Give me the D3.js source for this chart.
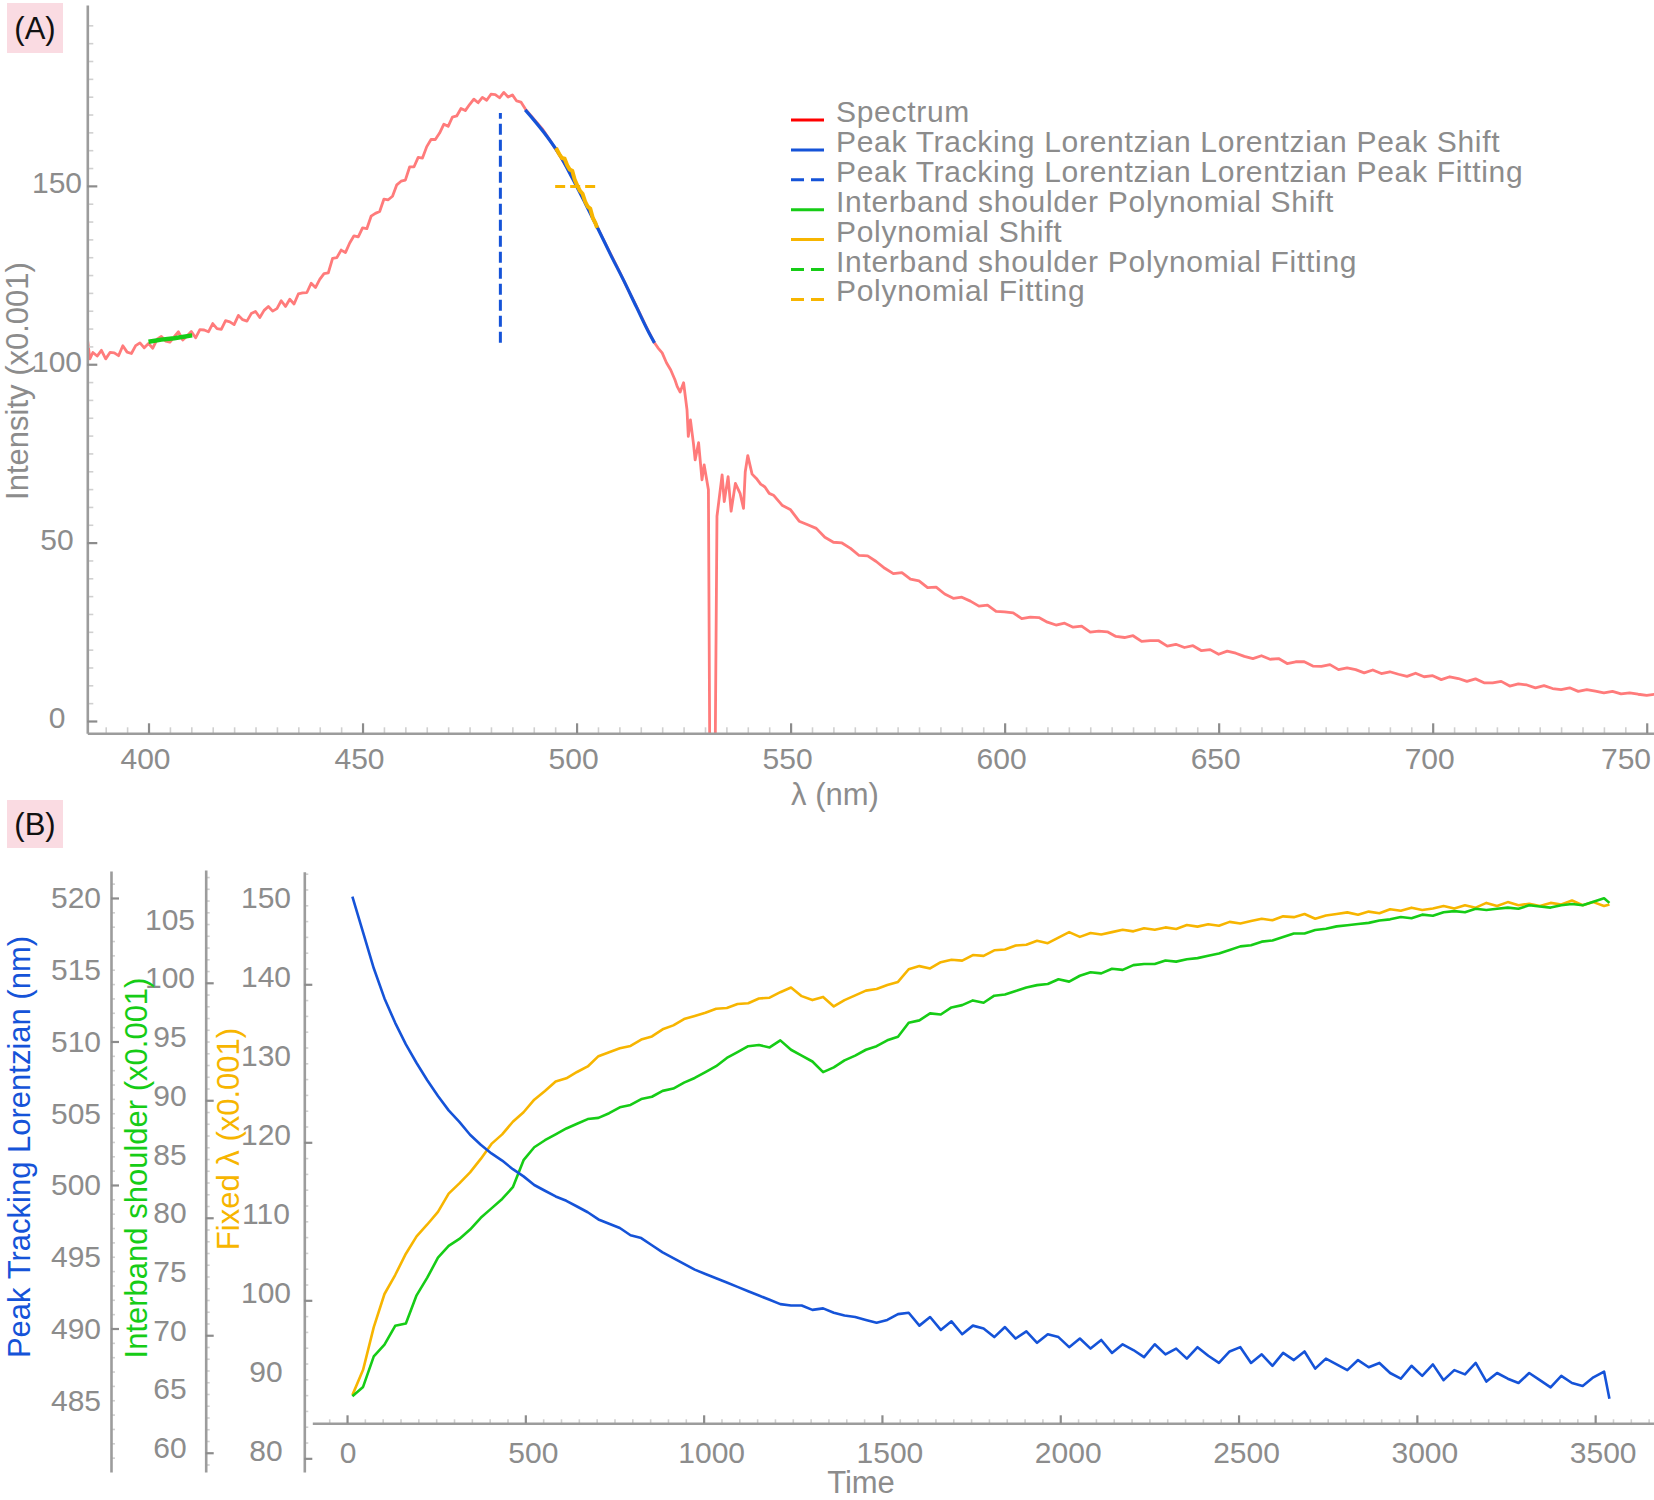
<!DOCTYPE html>
<html>
<head>
<meta charset="utf-8">
<script src="https://cdn.jsdelivr.net/npm/d3@7.9.0/dist/d3.min.js"></script>
<style>
  body { margin: 0; background: #fff; }
  svg { display: block; font-family: 'Liberation Sans', Arial, sans-serif; }
</style>
</head>
<body>
<svg id="chart" width="1654" height="1500"></svg>
<script>
// ---- panel A data: spectrum and fits, [wavelength nm, intensity x0.001]
const spectrum = [
  [385.8,106.4],[386.3,101.5],[387,103.3],[388,102.3],[389,103.9],[390,101.5],[391,103.3],[392,103.2],[393,102.4],[394,105.2],
  [395,103.4],[396,103.0],[397,105.2],[398,106.0],[399,104.6],[400,105.8],[401,104.5],[402,107.0],[403,107.8],[404,106.5],
  [405,106.2],[406,107.7],[407,109.1],[408,106.8],[409,107.9],[410,109.2],[411,107.4],[412,109.7],[413,109.6],[414,109.1],
  [415,111.4],[416,110.0],[417,109.8],[418,112.2],[419,111.9],[420,111.1],[421,113.7],[422,112.5],[423,112.1],[424,114.2],
  [425,114.8],[426,113.1],[427,115.1],[428,116.2],[429,114.9],[430,115.6],[431,117.8],[432,116.2],[433,118.2],[434,116.9],
  [435,119.7],[436,120.0],[437,120.1],[438,122.7],[439,121.5],[440,123.8],[441,125.4],[442,125.6],[443,129.7],[444,129.9],
  [445,132.0],[446,131.3],[447,134.0],[448,136.0],[449,135.7],[450,138.2],[451,138.0],[452,141.5],[453,142.3],[454,142.8],
  [455,146.3],[456,146.1],[457,147.1],[458,150.3],[459,151.3],[460,151.6],[461,155.3],[462,155.3],[463,158.0],[464,157.8],
  [465,161.0],[466,163.0],[467,163.0],[468,164.8],[469,167.3],[470,166.7],[471,169.3],[472,169.6],[473,171.7],[474,171.1],
  [475,172.8],[476,174.3],[477,173.3],[478,174.8],[479,174.0],[480,175.7],[481,175.6],[482,174.7],[483,176.2],[484,174.9],
  [485,175.5],[486,173.8],[487,173.5],[488,171.6],[490,168.8],[492,166.0],[494,162.4],[496,158.6],[498,154.6],[500,150.2],
  [502,145.4],[504,140.6],[506,135.6],[508,130.8],[510,126.0],[512,121.0],[514,116.2],[516,111.2],[518,106.4],[519,104.6],
  [520,103.2],[521,100.4],[522,98.4],[523,95.6],[523.5,93.8],[524.2,92.2],[525,94.8],[525.8,87.2],[526.1,79.8],[526.6,84.4],
  [527.3,77.8],[527.7,73.2],[528.5,78.0],[529.3,67.6],[529.8,71.8],[530.8,64.8],[531.1,-6],[532.4,-6],[532.8,57.4],[534,69.0],
  [534.5,61.5],[535.4,68.5],[536.1,58.8],[537.1,66.6],[538.2,63.8],[539,59.6],[539.4,69.8],[540,74.4],[541,69.2],[542,68.0],
  [543,66.4],[544,65.6],[545,63.8],[546,63.3],[548,60.5],[550,59.2],[552,56.0],[554,55.0],[556,54.0],[558,51.5],
  [560,50.1],[562,49.9],[564,48.4],[566,46.4],[568,46.3],[570,44.7],[572,42.8],[574,41.3],[576,41.6],[578,39.8],
  [580,39.3],[582,37.4],[584,37.5],[586,35.6],[588,34.4],[590,34.7],[592,33.6],[594,32.2],[596,32.5],[598,30.7],
  [600,30.6],[602,30.3],[604,28.7],[606,29.1],[608,29.0],[610,27.7],[612,26.9],[614,27.4],[616,26.3],[618,26.6],
  [620,24.9],[622,25.2],[624,25.0],[626,23.7],[628,23.4],[630,23.9],[632,22.3],[634,22.5],[636,22.5],[638,21.0],
  [640,21.5],[642,20.6],[644,21.1],[646,19.7],[648,20.0],[650,18.7],[652,19.6],[654,19.0],[656,18.1],[658,17.5],
  [660,18.3],[662,17.3],[664,17.5],[666,16.1],[668,16.6],[670,16.6],[672,15.4],[674,15.3],[676,15.8],[678,14.4],
  [680,14.9],[682,14.4],[684,13.5],[686,14.3],[688,13.3],[690,13.8],[692,13.1],[694,12.5],[696,13.4],[698,12.4],
  [700,12.7],[702,11.6],[704,12.4],[706,11.9],[708,11.1],[710,11.8],[712,10.7],[714,10.7],[716,11.1],[718,9.8],
  [720,10.4],[722,10.1],[724,9.3],[726,9.9],[728,9.1],[730,8.8],[732,9.3],[734,8.3],[736,8.8],[738,8.4],
  [740,7.9],[742,8.3],[744,7.6],[746,7.9],[748,7.5],[750,7.2],[752,7.5]
];
const lorentzShift = [[488,171.3],[490,168.5],[493,164.0],[496,158.8],[499,152.2],[502,145.2],[505,138.0],[508,130.6],[511,123.5],[514,116.0],[517,108.6],[518.2,106.0]];
const lorentzFitNm = 482.2;
const lorentzFitSpan = [106.0, 170.4];
const polyShift = [[495.2,160.6],[496,158.8],[496.6,157.8],[497.2,157.6],[497.8,155.8],[498.4,154.6],[499,154.2],[499.6,151.6],[500.2,150.0],[500.8,148.6],[501.4,147.8],[502,145.6],[502.6,144.2],[503.2,143.6],[503.8,141.0],[504.4,139.6],[504.8,138.2]];
const polyFitSpan = [495.0, 505.1];
const polyFitLevel = 149.8;
const shoulderShift = [[400.0,106.3],[403,106.9],[406,107.3],[410.2,108.1]];

const legendLabels = ['Spectrum','Peak Tracking Lorentzian Lorentzian Peak Shift','Peak Tracking Lorentzian Lorentzian Peak Fitting','Interband shoulder Polynomial Shift','Polynomial Shift','Interband shoulder Polynomial Fitting','Polynomial Fitting'];
const legendColors = ['#ff0000','#1553d8','#1553d8','#16cc16','#f7b500','#16cc16','#f7b500'];
const legendDashed = [false,false,true,false,false,true,true];

// ---- panel B data: time series
const times = [
  15,45,75,105,135,165,195,225,255,285,
  315,345,375,405,435,465,495,525,555,585,
  615,645,675,705,735,765,795,825,855,885,
  915,945,975,1005,1035,1065,1095,1125,1155,1185,
  1215,1245,1275,1305,1335,1365,1395,1425,1455,1485,
  1515,1545,1575,1605,1635,1665,1695,1725,1755,1785,
  1815,1845,1875,1905,1935,1965,1995,2025,2055,2085,
  2115,2145,2175,2205,2235,2265,2295,2325,2355,2385,
  2415,2445,2475,2505,2535,2565,2595,2625,2655,2685,
  2715,2745,2775,2805,2835,2865,2895,2925,2955,2985,
  3015,3045,3075,3105,3135,3165,3195,3225,3255,3285,
  3315,3345,3375,3405,3435,3465,3495,3525,3540
];
const peakLorentz = [
  520.1,517.6,515.1,513.0,511.3,509.8,508.5,507.3,506.2,505.2,
  504.4,503.5,502.8,502.2,501.7,501.1,500.6,500.0,499.6,499.2,
  498.9,498.5,498.1,497.6,497.3,497.0,496.5,496.3,495.8,495.3,
  494.9,494.5,494.1,493.8,493.5,493.2,492.9,492.6,492.3,492.0,
  491.7,491.6,491.6,491.3,491.4,491.1,490.9,490.8,490.6,490.4,
  490.6,491.0,491.1,490.2,490.8,489.9,490.5,489.6,490.2,490.0,
  489.4,490.1,489.3,489.8,489.0,489.6,489.4,488.7,489.3,488.6,
  489.2,488.3,488.9,488.5,488.0,488.9,488.2,488.6,487.9,488.7,
  488.1,487.6,488.4,488.7,487.6,488.2,487.4,488.3,487.8,488.4,
  487.2,487.9,487.5,487.1,487.8,487.3,487.6,486.9,486.5,487.4,
  486.7,487.5,486.4,487.1,486.8,487.6,486.3,486.9,486.5,486.2,
  486.9,486.4,485.9,486.7,486.2,486.0,486.6,487.0,485.1
];
const shoulder = [
  64.8,65.6,68.2,69.2,70.8,71.0,73.4,74.9,76.6,77.6,
  78.2,79.0,80.0,80.8,81.6,82.6,84.9,86.0,86.6,87.1,
  87.6,88.0,88.4,88.5,88.9,89.4,89.6,90.1,90.3,90.8,
  91.0,91.5,91.9,92.4,92.9,93.6,94.1,94.6,94.7,94.5,
  95.1,94.3,93.8,93.3,92.4,92.8,93.4,93.8,94.3,94.6,
  95.1,95.4,96.6,96.8,97.4,97.3,97.9,98.1,98.5,98.3,
  98.9,99.0,99.3,99.6,99.8,99.9,100.3,100.1,100.6,100.9,
  100.8,101.2,101.1,101.5,101.6,101.6,101.9,101.8,102.0,102.1,
  102.3,102.5,102.8,103.1,103.2,103.5,103.6,103.9,104.2,104.2,
  104.5,104.6,104.8,104.9,105.0,105.1,105.3,105.4,105.6,105.5,
  105.8,105.7,106.0,106.1,106.0,106.3,106.2,106.3,106.4,106.3,
  106.6,106.5,106.4,106.6,106.7,106.6,106.9,107.2,106.8
];
const fixedLambda = [
  88.0,91.2,96.6,100.8,103.2,105.9,108.1,109.6,111.2,113.5,
  114.8,116.2,117.9,119.8,121.0,122.6,123.8,125.4,126.5,127.7,
  128.1,128.9,129.6,130.9,131.4,131.9,132.2,133.0,133.4,134.3,
  134.8,135.6,136.0,136.4,136.9,137.0,137.5,137.6,138.2,138.3,
  139.0,139.6,138.5,138.0,138.4,137.2,138.0,138.6,139.2,139.4,
  139.9,140.3,141.9,142.3,142.0,142.8,143.1,143.0,143.7,143.6,
  144.3,144.4,144.9,145.0,145.5,145.2,145.9,146.6,146.0,146.5,
  146.3,146.6,146.9,146.7,147.1,146.9,147.2,147.0,147.5,147.3,
  147.6,147.4,147.9,147.7,148.0,148.3,148.1,148.6,148.5,148.9,
  148.3,148.7,148.9,149.1,148.8,149.2,149.0,149.5,149.3,149.7,
  149.4,149.6,149.9,149.6,150.0,149.7,150.3,149.9,150.4,150.0,
  150.2,149.9,150.3,150.1,150.6,150.0,150.4,149.9,150.1
];

const blueTickLabels = [485, 490, 495, 500, 505, 510, 515, 520];
const greenTickLabels = [60, 65, 70, 75, 80, 85, 90, 95, 100, 105];
const yellowTickLabels = [80, 90, 100, 110, 120, 130, 140, 150];
const timeTickLabels = [0, 500, 1000, 1500, 2000, 2500, 3000, 3500];
const nmTickLabels = [400, 450, 500, 550, 600, 650, 700, 750];
const intensityTickLabels = [0, 50, 100, 150];

// ---- styles
const GRAY = '#8c8c8c';
const AXIS = '#9c9c9c';
const MINOR = '#d0d0d0';
const SPEC = '#ff7b7b';
const BLUE = '#1553d8', GREEN = '#16cc16', YELLOW = '#f7b500';
const W = 1654;

const svg = d3.select('#chart');

function vTicks(x, scale, minor, major, minorLen, majorLen) {
  const g = svg.append('g').attr('transform', `translate(${x},0)`);
  g.append('g')
    .call(d3.axisRight(scale).tickValues(minor.filter(v => !major.includes(v))).tickSize(minorLen).tickSizeOuter(0).tickFormat(''))
    .call(a => { a.select('.domain').remove(); a.selectAll('.tick line').attr('stroke', MINOR).attr('stroke-width', 1.6); });
  g.append('g')
    .call(d3.axisRight(scale).tickValues(major).tickSize(majorLen).tickSizeOuter(0).tickFormat(''))
    .call(a => { a.select('.domain').attr('stroke', AXIS).attr('stroke-width', 2.6); a.selectAll('.tick line').attr('stroke', GRAY).attr('stroke-width', 2.2); });
}

function hTicks(y, scale, minor, major, minorLen, majorLen) {
  const g = svg.append('g').attr('transform', `translate(0,${y})`);
  g.append('g')
    .call(d3.axisTop(scale).tickValues(minor.filter(v => !major.includes(v))).tickSize(minorLen).tickSizeOuter(0).tickFormat(''))
    .call(a => { a.select('.domain').remove(); a.selectAll('.tick line').attr('stroke', MINOR).attr('stroke-width', 1.6); });
  g.append('g')
    .call(d3.axisTop(scale).tickValues(major).tickSize(majorLen).tickSizeOuter(0).tickFormat(''))
    .call(a => { a.select('.domain').attr('stroke', AXIS).attr('stroke-width', 2.6); a.selectAll('.tick line').attr('stroke', GRAY).attr('stroke-width', 2.2); });
}

function vLabels(scale, vals, cx, dy, color = GRAY) {
  svg.append('g').selectAll('text').data(vals).join('text')
    .attr('x', cx).attr('y', d => scale(d) + dy)
    .attr('text-anchor', 'middle').attr('dominant-baseline', 'central')
    .attr('font-size', 30).attr('fill', color).text(d => d);
}

// labels near the right edge are kept inside the picture
function hLabels(scale, vals, cy, dx) {
  svg.append('g').selectAll('text').data(vals).join('text')
    .attr('x', d => Math.min(scale(d) + dx(d), W - 28)).attr('y', cy)
    .attr('text-anchor', 'middle').attr('dominant-baseline', 'central')
    .attr('font-size', 30).attr('fill', GRAY).text(d => d);
}

function title(text, x, y, color, rotate) {
  svg.append('text')
    .attr('transform', `translate(${x},${y})` + (rotate ? ' rotate(-90)' : ''))
    .attr('text-anchor', 'middle').attr('dominant-baseline', 'central')
    .attr('font-size', 31).attr('fill', color).text(text);
}

function panelTag(text, x, y, w, h) {
  svg.append('rect').attr('x', x).attr('y', y).attr('width', w).attr('height', h).attr('fill', '#fadbe2');
  svg.append('text').attr('x', x + w / 2).attr('y', y + h / 2)
    .attr('text-anchor', 'middle').attr('dominant-baseline', 'central')
    .attr('font-size', 31).attr('fill', '#111').text(text);
}

// ================= Panel A =================
const xA = d3.scaleLinear().domain([385.7, 751.7]).range([87.3, W]);
const yA = d3.scaleLinear().domain([-3.45, 200.7]).range([733.3, 5]);

svg.append('clipPath').attr('id', 'clipA')
  .append('rect').attr('x', 87.3).attr('y', 0).attr('width', W - 87.3).attr('height', 733.3);

const plotA = svg.append('g').attr('clip-path', 'url(#clipA)');
const lineA = d3.line().x(d => xA(d[0])).y(d => yA(d[1]));

plotA.append('path').datum(spectrum).attr('d', lineA)
  .attr('fill', 'none').attr('stroke', SPEC).attr('stroke-width', 2.8).attr('stroke-linejoin', 'round');
plotA.append('path').datum(lorentzShift).attr('d', d3.line().x(d => xA(d[0])).y(d => yA(d[1])).curve(d3.curveMonotoneX))
  .attr('fill', 'none').attr('stroke', BLUE).attr('stroke-width', 3.2);
plotA.append('path').datum(polyShift).attr('d', lineA)
  .attr('fill', 'none').attr('stroke', YELLOW).attr('stroke-width', 4);
plotA.append('path').datum(shoulderShift).attr('d', lineA)
  .attr('fill', 'none').attr('stroke', GREEN).attr('stroke-width', 4.5);
plotA.append('line')
  .attr('x1', xA(lorentzFitNm)).attr('x2', xA(lorentzFitNm))
  .attr('y1', yA(lorentzFitSpan[0])).attr('y2', yA(lorentzFitSpan[1]))
  .attr('stroke', BLUE).attr('stroke-width', 3).attr('stroke-dasharray', '11 5');
plotA.append('line')
  .attr('x1', xA(polyFitSpan[0])).attr('x2', xA(polyFitSpan[1]))
  .attr('y1', yA(polyFitLevel)).attr('y2', yA(polyFitLevel))
  .attr('stroke', YELLOW).attr('stroke-width', 3).attr('stroke-dasharray', '10 5');

vTicks(87.3, yA, d3.range(0, 200, 5), [0, 50, 100, 150], 6, 10);
hTicks(733.3, xA, d3.range(390, 752, 5), d3.range(400, 751, 50), 6, 10);
vLabels(yA, intensityTickLabels, 57, -3);
hLabels(xA, nmTickLabels, 758, () => -3);
title('Intensity (x0.001)', 17, 381, GRAY, true);
title('λ (nm)', 835, 794, GRAY, false);

// legend
const legend = svg.append('g');
legend.selectAll('line').data(legendLabels).join('line')
  .attr('x1', 791).attr('x2', 824)
  .attr('y1', (d, i) => 120 + i * 29.9).attr('y2', (d, i) => 120 + i * 29.9)
  .attr('stroke', (d, i) => legendColors[i]).attr('stroke-width', 3)
  .attr('stroke-dasharray', (d, i) => legendDashed[i] ? '13 7' : null);
legend.selectAll('text').data(legendLabels).join('text')
  .attr('x', 836).attr('y', (d, i) => 122 + i * 29.9)
  .attr('font-size', 30).attr('letter-spacing', 0.7).attr('fill', GRAY).text(d => d);

panelTag('(A)', 7, 3, 56, 50);

// ================= Panel B =================
const xB = d3.scaleLinear().domain([-97.4, 3665]).range([312.3, W]);
const yBlue = d3.scaleLinear().domain([480, 521.88]).range([1472, 871]);
const yGreen = d3.scaleLinear().domain([58.36, 109.6]).range([1472, 870]);
const yYellow = d3.scaleLinear().domain([78.27, 154.25]).range([1472, 871.7]);

vTicks(111, yBlue, d3.range(481, 522, 1), [490, 500, 510, 520], 4, 8);
vTicks(205.7, yGreen, d3.range(59, 110, 1), [60, 70, 80, 90, 100], 4, 8);
vTicks(304.3, yYellow, d3.range(80, 155, 2), [80, 100, 120, 140], 4, 8);
hTicks(1423.3, xB, d3.range(-50, 3660, 50), timeTickLabels, 4, 8);

vLabels(yBlue, blueTickLabels, 76, 0);
vLabels(yGreen, greenTickLabels, 170, -5);
vLabels(yYellow, yellowTickLabels, 266, -8);
hLabels(xB, timeTickLabels, 1452.5, d => d === 0 ? 1 : 8);

title('Peak Tracking Lorentzian (nm)', 19, 1147, BLUE, true);
title('Interband shoulder (x0.001)', 136, 1168, GREEN, true);
title('Fixed λ (x0.001)', 228, 1139, YELLOW, true);
title('Time', 861, 1482, GRAY, false);

const seriesB = [
  { values: fixedLambda, scale: yYellow, color: YELLOW },
  { values: shoulder, scale: yGreen, color: GREEN },
  { values: peakLorentz, scale: yBlue, color: BLUE }
];
svg.append('g').selectAll('path').data(seriesB).join('path')
  .attr('d', s => d3.line().x((v, i) => xB(times[i])).y(v => s.scale(v))(s.values))
  .attr('fill', 'none').attr('stroke', s => s.color).attr('stroke-width', 2.6).attr('stroke-linejoin', 'round');

panelTag('(B)', 7, 800, 56, 48);
</script>
</body>
</html>
